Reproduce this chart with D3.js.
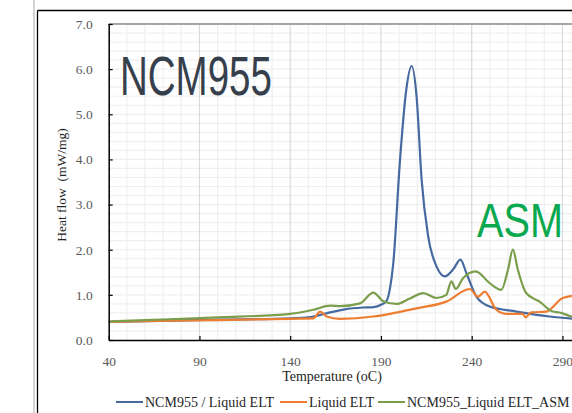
<!DOCTYPE html>
<html>
<head>
<meta charset="utf-8">
<script src="https://cdn.jsdelivr.net/npm/d3@7"></script>
<style>
  body { margin: 0; background: #fff; overflow: hidden; }
  svg { display: block; }
</style>
</head>
<body>
<svg id="chart"></svg>
<script>
// values
var xTicks = [40, 90, 140, 190, 240, 290];
var yTicks = [0, 1, 2, 3, 4, 5, 6, 7];

var ncmLiquid = [
  [40, 0.40], [60, 0.42], [100, 0.45], [140, 0.48], [150, 0.50], [160, 0.59],
  [170, 0.68], [180, 0.72], [186, 0.73], [190, 0.78], [193, 0.86], [195, 1.15],
  [196.8, 1.70], [200.4, 3.93], [204, 5.56], [206.9, 6.07], [209.6, 5.41],
  [212.4, 3.56], [216, 2.30], [220.6, 1.63], [225.2, 1.41], [229.7, 1.56],
  [233.8, 1.78], [237.1, 1.48], [242.6, 0.96], [249.9, 0.74], [264.6, 0.63],
  [282.9, 0.52], [300, 0.46]
];
var liquid = [
  [40, 0.40], [60, 0.42], [100, 0.44], [140, 0.47], [152.8, 0.48], [156.5, 0.63],
  [160, 0.52], [167.5, 0.47], [185.8, 0.52], [195, 0.58], [209.6, 0.70],
  [226, 0.85], [238.9, 1.13], [243.5, 0.96], [247.1, 1.07], [253.6, 0.67],
  [259, 0.58], [268.2, 0.58], [269.7, 0.50], [272.8, 0.61], [281, 0.63],
  [290.2, 0.93], [300, 1.0]
];
var ncmAsm = [
  [40, 0.41], [60, 0.44], [100, 0.50], [140, 0.58], [152.8, 0.67], [162, 0.76],
  [167.5, 0.75], [178.5, 0.81], [185.8, 1.05], [191.3, 0.86], [198.6, 0.80],
  [206, 0.92], [213.3, 1.04], [220.6, 0.93], [226, 1.0], [228.8, 1.30],
  [231.2, 1.13], [235.2, 1.37], [242.2, 1.52], [249.9, 1.26], [256.3, 1.11],
  [260, 1.56], [262.7, 2.0], [265.4, 1.56], [270, 1.04], [277.4, 0.85],
  [284.7, 0.63], [288.4, 0.61], [295, 0.52], [300, 0.48]
];

var seriesNames = ['NCM955 / Liquid ELT', 'Liquid ELT', 'NCM955_Liquid ELT_ASM'];
var seriesColors = ['#466a9f', '#ed7d31', '#7a9e4c'];
var seriesData = [ncmLiquid, liquid, ncmAsm];

var width = 572, height = 413;
var plotLeft = 108.7, plotTop = 24, plotBottom = 340;

var svg = d3.select('#chart')
  .attr('width', width)
  .attr('height', height);

var x = d3.scaleLinear().domain([40, 300]).range([plotLeft, plotLeft + 260 * 1.815]);
var y = d3.scaleLinear().domain([0, 7]).range([plotBottom, plotTop]);

// outer frame
svg.append('line').attr('x1', 34).attr('x2', 34).attr('y1', 0).attr('y2', height)
  .attr('stroke', '#d4d4d4').attr('stroke-width', 2);
svg.append('line').attr('x1', 37.5).attr('x2', 37.5).attr('y1', 10.5).attr('y2', height)
  .attr('stroke', '#000').attr('stroke-width', 1.3);
svg.append('line').attr('x1', 37.5).attr('x2', width).attr('y1', 10.5).attr('y2', 10.5)
  .attr('stroke', '#000').attr('stroke-width', 1.3);

// grid
var grid = svg.append('g');
grid.selectAll('.hy').data(d3.range(0.2, 7.01, 0.2))
  .enter().append('line')
  .attr('x1', plotLeft).attr('x2', width)
  .attr('y1', function(d) { return y(d); })
  .attr('y2', function(d) { return y(d); })
  .attr('stroke', '#efefef').attr('stroke-width', 1.2);
grid.selectAll('.vx').data(d3.range(50, 301, 10))
  .enter().append('line')
  .attr('y1', plotTop).attr('y2', plotBottom)
  .attr('x1', function(d) { return x(d); })
  .attr('x2', function(d) { return x(d); })
  .attr('stroke', function(d) { return (d - 40) % 50 === 0 ? '#dadada' : '#efefef'; })
  .attr('stroke-width', 1.2);

// top border of plot
svg.append('line').attr('x1', plotLeft).attr('x2', width).attr('y1', plotTop).attr('y2', plotTop)
  .attr('stroke', '#a6a6a6').attr('stroke-width', 2);

// big labels, squeezed to the narrow width seen in the picture
function bigLabel(txt, px, py, size, w, color) {
  var t = svg.append('text')
    .style('font-family', 'Liberation Sans, Arial, sans-serif')
    .style('font-size', size + 'px')
    .attr('fill', color)
    .text(txt);
  var sx = w / t.node().getComputedTextLength();
  t.attr('transform', 'translate(' + px + ',' + py + ') scale(' + sx + ',1)');
}
bigLabel('NCM955', 120, 95, 56, 152, '#36404c');
bigLabel('ASM', 477, 237, 49, 86, '#0aa84f');

// curves
svg.append('clipPath').attr('id', 'plot')
  .append('rect').attr('x', plotLeft).attr('y', plotTop)
  .attr('width', width - plotLeft).attr('height', plotBottom - plotTop);

var line = d3.line()
  .x(function(d) { return x(d[0]); })
  .y(function(d) { return y(d[1]); })
  .curve(d3.curveMonotoneX);

svg.append('g').attr('clip-path', 'url(#plot)')
  .selectAll('path').data(seriesData)
  .enter().append('path')
  .attr('d', line)
  .attr('fill', 'none')
  .attr('stroke', function(d, i) { return seriesColors[i]; })
  .attr('stroke-width', 2.2);

// axes
var yAxis = svg.append('g')
  .attr('transform', 'translate(' + plotLeft + ',0)')
  .call(d3.axisLeft(y).tickValues(yTicks).tickFormat(d3.format('.1f')).tickSizeInner(-4).tickSizeOuter(0).tickPadding(16));
var xAxis = svg.append('g')
  .attr('transform', 'translate(0,' + plotBottom + ')')
  .call(d3.axisBottom(x).tickValues(xTicks).tickSizeInner(-4).tickSizeOuter(0).tickPadding(16));

[yAxis, xAxis].forEach(function(a) {
  a.select('.domain').attr('stroke', '#000').attr('stroke-width', 1.5);
  a.selectAll('.tick line').attr('stroke', '#000').attr('stroke-width', 1.2);
  a.selectAll('text')
    .style('font-family', 'Liberation Serif, Times New Roman, serif')
    .style('font-size', '13.5px')
    .attr('fill', '#595959');
});
yAxis.select('.domain').attr('d', 'M0.5,' + plotTop + 'V' + plotBottom);

// axis titles
svg.append('text')
  .attr('transform', 'translate(66,185) rotate(-90)')
  .attr('text-anchor', 'middle')
  .style('font-family', 'Liberation Serif, Times New Roman, serif')
  .style('font-size', '13.5px')
  .attr('fill', '#262626')
  .text('Heat flow\u00a0\u00a0(mW/mg)');
svg.append('text')
  .attr('x', 332).attr('y', 381)
  .attr('text-anchor', 'middle')
  .style('font-family', 'Liberation Serif, Times New Roman, serif')
  .style('font-size', '14px')
  .attr('fill', '#262626')
  .text('Temperature (oC)');

// legend
var legendX = [116, 280, 378];
var legend = svg.selectAll('.legend').data(seriesNames)
  .enter().append('g')
  .attr('transform', function(d, i) { return 'translate(' + legendX[i] + ',402)'; });
legend.append('line')
  .attr('x1', 0).attr('x2', 27)
  .attr('stroke', function(d, i) { return seriesColors[i]; })
  .attr('stroke-width', 2);
legend.append('text')
  .attr('x', 29).attr('y', 5)
  .style('font-family', 'Liberation Serif, Times New Roman, serif')
  .style('font-size', '14px')
  .attr('fill', '#262626')
  .text(function(d) { return d; });
</script>
</body>
</html>
